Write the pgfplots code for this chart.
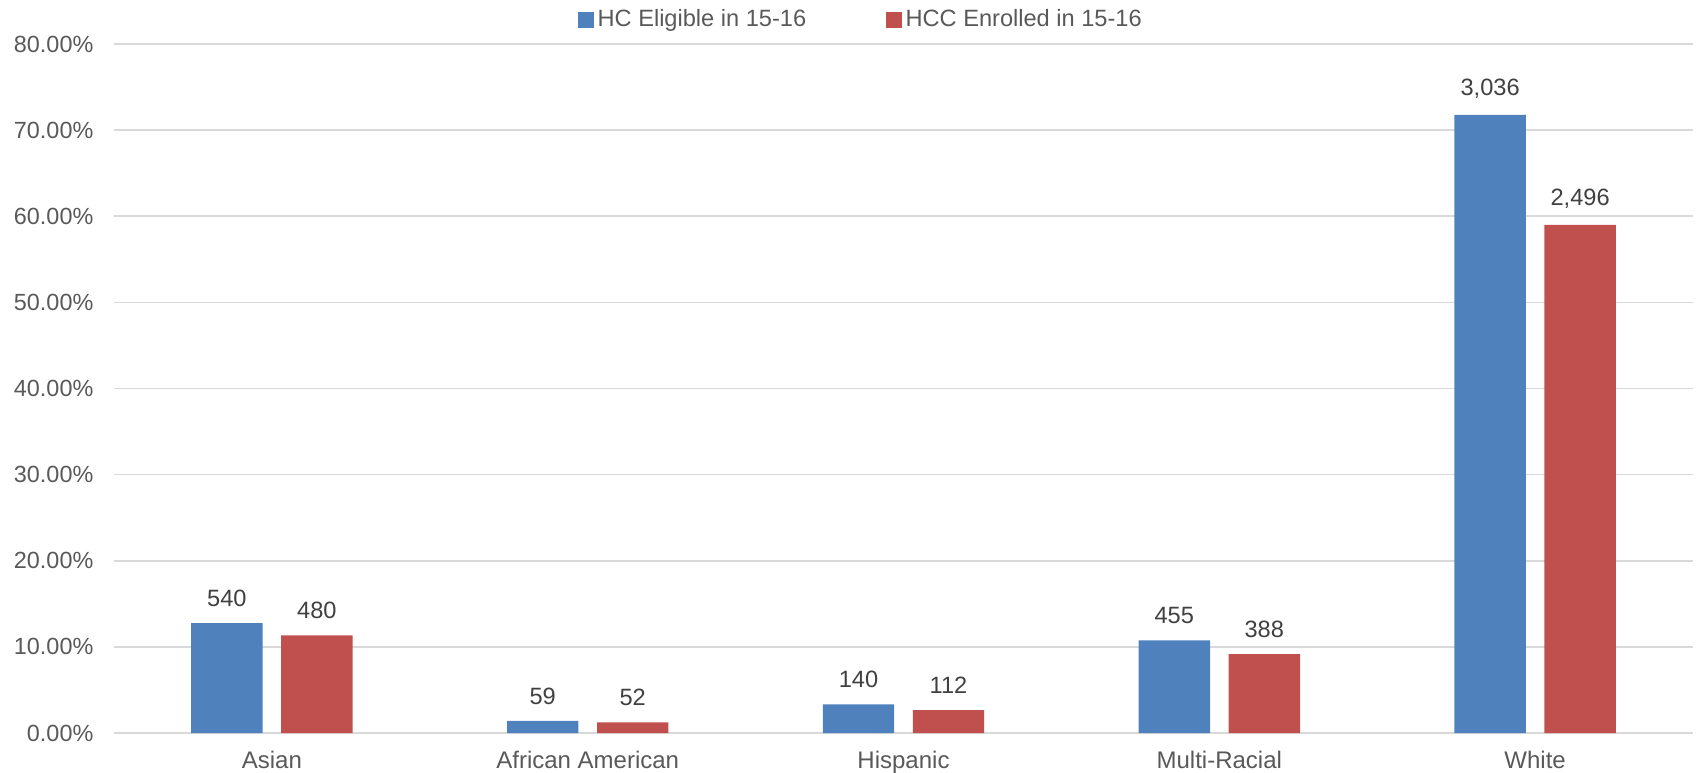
\documentclass[border=0pt]{standalone}
\usepackage{pgfplots}
\pgfplotsset{compat=1.18}
\usepackage{pgfplotstable}
\usepackage{fontspec}
\setmainfont{Liberation Sans}
\definecolor{cblue}{HTML}{4F81BD}
\definecolor{cred}{HTML}{C0504D}
\definecolor{cgrid}{HTML}{D9D9D9}
\definecolor{ctick}{HTML}{595959}
\definecolor{clab}{HTML}{404040}
\pgfplotstableread{
x pct n
0 12.766 540
1 1.395 59
2 3.310 140
3 10.757 455
4 71.773 3,036
}\eligible
\pgfplotstableread{
x pct n
0 11.348 480
1 1.229 52
2 2.648 112
3 9.173 388
4 59.007 2,496
}\enrolled
\begin{document}
\fontsize{11.5}{13}\selectfont
\begin{tikzpicture}
\useasboundingbox (0,0) rectangle (848pt,386pt);
\begin{axis}[
  at={(57pt,19.5pt)}, anchor=south west,
  scale only axis, width=789.5pt, height=344.5pt,
  ybar, bar width=35.7pt,
  xmin=-0.5, xmax=4.5, ymin=0, ymax=80,
  xtick=data, xticklabels={Asian,African American,Hispanic,Multi-Racial,White},
  ytick={0,10,...,80},
  yticklabel={\pgfmathprintnumber[fixed,fixed zerofill,precision=2]{\tick}\%},
  /pgf/number format/assume math mode=true,
  ymajorgrids, grid style={cgrid, line width=0.8pt},
  axis line style={draw=none}, major tick length=0pt,
  tick label style={font=\fontsize{12}{13}\selectfont, text=ctick},
  yticklabel style={xshift=-6.3pt, font=\fontsize{11.7}{13}\selectfont},
  xticklabel style={yshift=-5.2pt},
  nodes near coords, point meta=explicit symbolic,
  every node near coord/.append style={font=\fontsize{11.8}{13}\selectfont, text=clab, yshift=4.2pt},
  legend style={at={(374pt,356.5pt)}, anchor=center, draw=none, fill=none,
    legend columns=2, font=\fontsize{11.8}{13}\selectfont, text=ctick,
    /tikz/every even column/.append style={column sep=38pt}},
  legend image code/.code={\fill (0pt,-3.85pt) rectangle (7.7pt,3.85pt);},
  clip=false,
]
\addplot[fill=cblue, draw=none, bar shift=-22.5pt] table[x=x, y=pct, meta=n] {\eligible};
\addplot[fill=cred, draw=none, bar shift=22.5pt] table[x=x, y=pct, meta=n] {\enrolled};
\legend{HC Eligible in 15-16, HCC Enrolled in 15-16}
\end{axis}
\end{tikzpicture}
\end{document}
